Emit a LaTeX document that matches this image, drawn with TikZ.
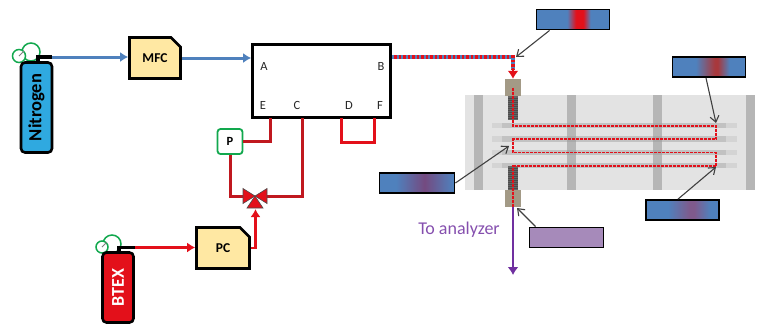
\documentclass[tikz,border=0pt]{standalone}
\usepackage{fontspec}
\setmainfont{Carlito}
\usetikzlibrary{arrows.meta,positioning,calc,shapes.misc}
\definecolor{pipeblue}{HTML}{4F81BD}
\definecolor{pipered}{HTML}{E3101A}
\definecolor{pipedark}{HTML}{C0181F}
\definecolor{tankblue}{HTML}{2FA9E0}
\definecolor{boxyellow}{HTML}{FFE8A3}
\definecolor{gaugegreen}{HTML}{12A84E}
\definecolor{outpurple}{HTML}{7030A0}
\definecolor{legendpurple}{HTML}{A68ABA}
\definecolor{midbrick}{HTML}{A8383C}
\definecolor{midplum}{HTML}{7F5A8C}
\definecolor{midgrape}{HTML}{744A80}
\definecolor{fittan}{HTML}{A39A86}
\pgfdeclarehorizontalshading{bandhot}{100bp}{color(0bp)=(pipeblue); color(46bp)=(pipeblue); color(52bp)=(pipered); color(57bp)=(pipered); color(62bp)=(pipeblue); color(100bp)=(pipeblue)}
\pgfdeclarehorizontalshading{bandwarm}{100bp}{color(0bp)=(pipeblue); color(41bp)=(pipeblue); color(54bp)=(midbrick); color(56bp)=(midbrick); color(64bp)=(pipeblue); color(100bp)=(pipeblue)}
\pgfdeclarehorizontalshading{bandmild}{100bp}{color(0bp)=(pipeblue); color(40bp)=(pipeblue); color(55bp)=(midplum); color(58bp)=(midplum); color(69bp)=(pipeblue); color(100bp)=(pipeblue)}
\pgfdeclarehorizontalshading{bandcool}{100bp}{color(0bp)=(pipeblue); color(36bp)=(pipeblue); color(55bp)=(midgrape); color(74bp)=(pipeblue); color(100bp)=(pipeblue)}
\tikzset{
  blockbox/.style={draw=black,line width=2.6pt,fill=boxyellow,chamfered rectangle,chamfered rectangle corners=north east,chamfered rectangle xsep=6pt,chamfered rectangle ysep=5pt,inner sep=0pt,font=\fontsize{13.5}{14}\selectfont\bfseries},
  tankbox/.style={draw=black,line width=2.6pt,rounded corners=4pt,minimum width=31pt,inner sep=0pt},
  gaugedial/.style={circle,draw=gaugegreen,line width=1.5pt,fill=white,inner sep=0pt},
  legendbox/.style={draw=black,line width=1.8pt,minimum width=73pt,minimum height=20pt,inner sep=0pt},
  portlabel/.style={font=\fontsize{12.5}{13}\selectfont,text=black!85,inner sep=0pt},
  bluepipe/.style={pipeblue,line width=3pt,-{Latex[length=8pt,width=10pt]}},
  redpipe/.style={pipered,line width=2.6pt,-{Latex[length=8pt,width=10pt]}},
  darkpipe/.style={pipedark,line width=3pt},
  neckpipe/.style={black,line width=3.5pt},
  tagarrow/.style={draw=black!75,line width=1.1pt,-{Straight Barb[length=6pt,width=9pt]}},
  tubepath/.style={pipered,line width=1.5pt,dash pattern=on 3pt off 1pt},
}
\begin{document}
\begin{tikzpicture}[x=1pt,y=-1pt]
\useasboundingbox (0,0) rectangle (759,325);
% reactor plate
\fill[black!11] (465,95) rectangle (755,190);
\foreach \tubey in {125.5,139,152.5,165.5} {
  \fill[black!17] (492,\tubey-2.8) rectangle (737,\tubey+2.8);
  \fill[black!24] (502,\tubey-2.8) rectangle (726,\tubey+2.8);
}
\foreach \barx in {478,571.5,657,750}
  \fill[black!40,opacity=0.6] (\barx-4.5,95) rectangle (\barx+4.5,190);
% fittings
\foreach \thready/\threadh in {96/24,166/24} {
  \fill[black!60] (508,\thready) rectangle (518,\thready+\threadh);
  \foreach \k in {2,4,...,22}
    \draw[black!70,line width=0.3pt] (508,\thready+\k) -- (518,\thready+\k);
}
\node[fill=fittan,minimum width=16pt,minimum height=17pt,inner sep=0pt] (fittop) at (513,87.5) {};
\node[fill=fittan,minimum width=16pt,minimum height=17pt,inner sep=0pt] (fitbot) at (513,198.5) {};
% cylinders
\node[gaugedial,minimum size=18pt] (ngaugeb) at (31,52) {};
\node[gaugedial,minimum size=13pt] (ngaugea) at (19,56) {};
\draw[black!50,line width=0.8pt] (ngaugea.center) -- (ngaugea.north east);
\node[tankbox,fill=tankblue,minimum height=90pt] (ntank) at (36.5,107.5) {};
\node[rotate=90,font=\fontsize{18.5}{19}\selectfont\bfseries] (nlabel) at (ntank.center) {Nitrogen};
\coordinate (nneck) at (52,57);
\draw[neckpipe] (ngaugeb.south east |- ntank.north) |- (nneck);
\node[gaugedial,minimum size=18pt] (bgaugeb) at (112,244) {};
\node[gaugedial,minimum size=12pt] (bgaugea) at (102,247) {};
\draw[black!50,line width=0.8pt] (bgaugea.center) -- (bgaugea.north east);
\node[tankbox,fill=pipered,minimum height=70pt] (btank) at (118,287.5) {};
\node[rotate=90,text=white,font=\fontsize{18}{18}\selectfont\bfseries] (blabel) at (btank.center) {BTEX};
\coordinate (bneck) at (135,247.5);
\draw[neckpipe] (bgaugeb.south east |- btank.north) |- (bneck);
% controllers
\node[blockbox,minimum width=51pt,minimum height=41pt] (mfc) at (155,58) {MFC};
\node[blockbox,minimum width=53pt,minimum height=41pt] (pc) at (223,248) {PC};
\node[draw=black,line width=2.6pt,fill=white,minimum width=138pt,minimum height=73pt,inner sep=0pt] (valvebox) at (321.5,81) {};
\node[portlabel] (porta) at (264,66) {A};
\node[portlabel] (portb) at (381,66) {B};
\node[portlabel] (porte) at (263,105) {E};
\node[portlabel] (portc) at (297,105) {C};
\node[portlabel] (portd) at (349,105) {D};
\node[portlabel] (portf) at (380,105) {F};
\coordinate (pine) at (270,118);
\coordinate (pinc) at (302,118);
\coordinate (pind) at (341,118);
\coordinate (pinf) at (374,118);
\coordinate (loopend) at (374,142);
\node[draw=gaugegreen,line width=1.8pt,fill=white,rounded corners=3pt,minimum size=25pt,inner sep=0pt,font=\fontsize{12.5}{13}\selectfont\bfseries] (gauge) at (230,141.5) {P};
\node[minimum width=24pt,minimum height=14pt,inner sep=0pt] (valve) at (255,196) {};
% feed lines
\draw[bluepipe] (nneck) -- (nneck -| mfc.west);
\draw[bluepipe] (mfc.east) -- (mfc.east -| valvebox.west);
\draw[redpipe] (bneck) -- (bneck -| pc.west);
\draw[redpipe] (pc.east) -| (255.5,209);
\draw[darkpipe] (gauge.east) -| (pine);
\draw[darkpipe] (gauge.south) |- (valve.west);
\draw[darkpipe] (valve.east) -| (pinc);
\draw[pipered,line width=3pt] (pind) |- (loopend) -- (pinf);
% valve
\fill[pipered,draw=black!70,line width=0.6pt] (valve.center) -- (243,188.5) -- (243,203.5) -- cycle;
\fill[pipered,draw=black!70,line width=0.6pt] (valve.center) -- (267,188.5) -- (267,203.5) -- cycle;
\fill[pipered,draw=black!70,line width=0.6pt] (valve.center) -- (247,208) -- (263,208) -- cycle;
% reactor line
\coordinate (bout) at (392,57);
\coordinate (bend) at (513,57);
\draw[pipered,line width=3.2pt] (bout) -- (bend) -- (513,70);
\draw[pipeblue,line width=3.2pt,dash pattern=on 2pt off 2.5pt] (bout) -- (bend) -- (513,70);
\draw[pipered,line width=2.6pt,-{Latex[length=8pt,width=11pt]}] (513,68) -- (fittop.north);
\draw[tubepath] (fittop.center) -- (513,126) -- (716,126) -- (716,139) -- (513,139) -- (513,152.5) -- (716,152.5) -- (716,166) -- (513,166) -- (fitbot.south);
\draw[outpurple,line width=2.8pt,-{Latex[length=8pt,width=11pt]}] (fitbot.south) -- (513,275);
\node[text=outpurple!85,font=\fontsize{18}{18}\selectfont,inner sep=0pt] (outlabel) at (459,230) {To analyzer};
% temperature tags
\node[legendbox,shading=bandhot,shade] (taginlet) at (573,19.5) {};
\node[legendbox,shading=bandwarm,shade] (tagupper) at (709,67) {};
\node[legendbox,shading=bandmild,shade] (taglower) at (682.5,210) {};
\node[legendbox,shading=bandcool,shade,minimum width=75pt] (tagmiddle) at (417,183) {};
\node[legendbox,fill=legendpurple,minimum width=74pt] (tagoutlet) at (566.5,237.5) {};
\coordinate (hitinlet) at (516,57);
\coordinate (hitupper) at (716,123);
\coordinate (hitlower) at (716,167);
\coordinate (hitmiddle) at (509,146);
\coordinate (hitoutlet) at (517,208);
\draw[tagarrow] (taginlet.south west)+(14,0) -- (hitinlet);
\draw[tagarrow] (tagupper.south)+(-3,0) -- (hitupper);
\draw[tagarrow] (taglower.north)+(-4.5,0) -- (hitlower);
\draw[tagarrow] (tagmiddle.east) -- (hitmiddle);
\draw[tagarrow] (tagoutlet.north west)+(7,0) -- (hitoutlet);
\end{tikzpicture}
\end{document}
